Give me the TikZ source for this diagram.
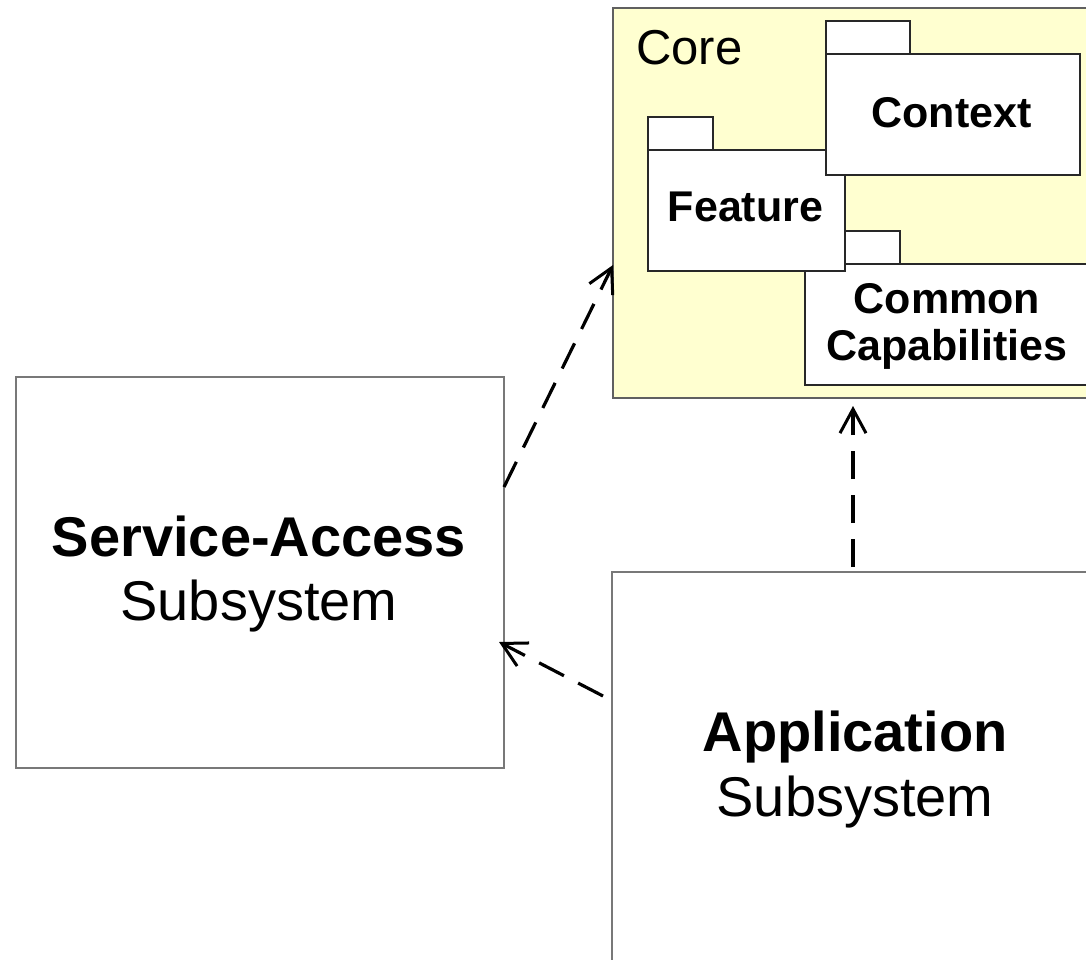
\documentclass[tikz,border=0pt]{standalone}
\usepackage{fontspec}
\setmainfont{Liberation Sans}
\usetikzlibrary{arrows.meta}
\definecolor{coreyellow}{RGB}{255,255,208}
\definecolor{framegray}{RGB}{120,120,120}
\definecolor{pkgline}{RGB}{40,40,40}
\begin{document}
\begin{tikzpicture}[x=1pt,y=-1pt,
  bigbox/.style={draw=framegray, line width=2pt, fill=white, anchor=north west, inner sep=0pt, outer sep=0pt},
  pkgbox/.style={draw=pkgline, line width=1.8pt, fill=white, anchor=north west, inner sep=0pt, outer sep=0pt},
  bigbold/.style={font=\fontsize{56}{64}\selectfont\bfseries, inner sep=0pt, anchor=base},
  bigreg/.style={font=\fontsize{56}{64}\selectfont, inner sep=0pt, anchor=base},
  pkglabel/.style={font=\fontsize{43}{50}\selectfont\bfseries, inner sep=0pt, anchor=base},
  dep/.style={draw=black, line width=3.2pt, dash pattern=on 28pt off 16pt,
    -{Straight Barb[length=24pt,width=26pt,line width=3pt]}}]
\useasboundingbox (0,0) rectangle (1086,960);
\clip (0,0) rectangle (1086,960);
\fill[white] (0,0) rectangle (1086,960);
% Core package frame
\node[bigbox, fill=coreyellow, draw=framegray!80!black, minimum width=500pt, minimum height=390pt] (core) at (613,8) {};
\node[font=\fontsize{49}{58}\selectfont, inner sep=0pt, anchor=base west] (corelbl) at (636,65) {Core};
% Common Capabilities
\node[pkgbox, minimum width=55pt, minimum height=33pt] (commontab) at (845,231) {};
\node[pkgbox, minimum width=320pt, minimum height=121pt] (common) at (805,264) {};
\node[pkglabel] (commonA) at (947,313) {Common};
\node[pkglabel] (commonB) at (947,360) {Capabilities};
% Feature
\node[pkgbox, minimum width=65pt, minimum height=33pt] (featuretab) at (648,117) {};
\node[pkgbox, minimum width=197pt, minimum height=121pt] (feature) at (648,150) {};
\node[pkglabel] (featurelbl) at (745.5,222) {Feature};
% Context
\node[pkgbox, minimum width=84pt, minimum height=33pt] (contexttab) at (826,21) {};
\node[pkgbox, minimum width=254pt, minimum height=121pt] (context) at (826,54) {};
\node[pkglabel] (contextlbl) at (951.5,128) {Context};
% Service-Access subsystem
\node[bigbox, minimum width=488pt, minimum height=391pt] (sa) at (16,377) {};
\node[bigbold] (satitle) at (259,556) {Service-Access};
\node[bigreg] (sasub) at (259,620) {Subsystem};
% Application subsystem
\node[bigbox, minimum width=488pt, minimum height=408pt] (app) at (612,572) {};
\node[bigbold] (apptitle) at (855,751) {Application};
\node[bigreg] (appsub) at (855,816) {Subsystem};
% Dependencies
\draw[dep] ([yshift=85.5pt]sa.east) -- ([yshift=-62pt]core.west);
\draw[dep] ([yshift=80pt,xshift=-9pt]app.west) -- ([yshift=-69.5pt,xshift=-5pt]sa.east);
\draw[dep, shorten <=5pt, shorten >=8pt] ([xshift=-3pt]app.north) -- ([xshift=-3pt]app.north |- core.south);
\end{tikzpicture}
\end{document}
